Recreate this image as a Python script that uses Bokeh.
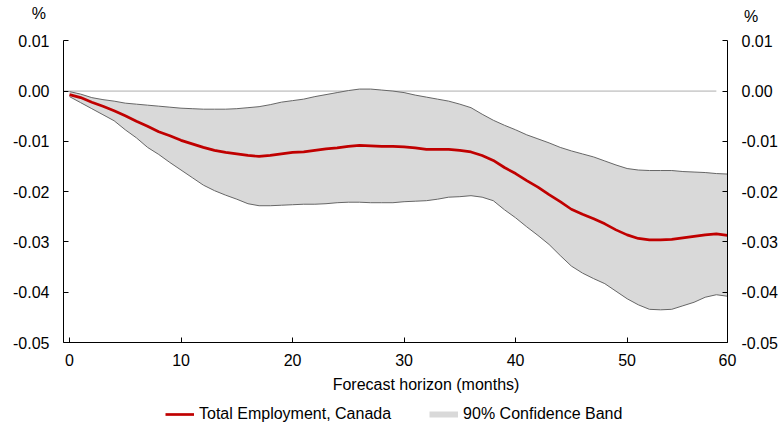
from bokeh.plotting import figure
from bokeh.models import (Range1d, LinearAxis, FixedTicker, PrintfTickFormatter,
                          Legend, LegendItem, Label, ColumnDataSource)
from bokeh.embed import file_html
from bokeh.resources import INLINE

# ---------------- data ----------------
months = list(range(60))
employment = [
    -0.0007, -0.0013, -0.0022, -0.0030, -0.0039, -0.0049, -0.0060, -0.0070, -0.0081, -0.0089,
    -0.0098, -0.0105, -0.0112, -0.0118, -0.0122, -0.0125, -0.0128, -0.0130, -0.0128, -0.0125,
    -0.0122, -0.0121, -0.0118, -0.0115, -0.0113, -0.0110, -0.0108, -0.0109, -0.0110, -0.0110,
    -0.0111, -0.0113, -0.0116, -0.0116, -0.0116, -0.0118, -0.0121, -0.0128, -0.0138, -0.0152,
    -0.0164, -0.0178, -0.0191, -0.0206, -0.0220, -0.0235, -0.0245, -0.0254, -0.0264, -0.0276,
    -0.0286, -0.0293, -0.0296, -0.0296, -0.0295, -0.0292, -0.0289, -0.0286, -0.0284, -0.0287]
upper = [
    -0.0001, -0.0006, -0.0013, -0.0017, -0.0020, -0.0024, -0.0026, -0.0028, -0.0030, -0.0032,
    -0.0034, -0.0035, -0.0036, -0.0036, -0.0036, -0.0035, -0.0033, -0.0031, -0.0027, -0.0022,
    -0.0019, -0.0016, -0.0011, -0.0007, -0.0003, 0.0001, 0.0004, 0.0004, 0.0002, 0.0000,
    -0.0003, -0.0008, -0.0012, -0.0016, -0.0020, -0.0026, -0.0033, -0.0046, -0.0058, -0.0068,
    -0.0077, -0.0087, -0.0095, -0.0103, -0.0112, -0.0119, -0.0125, -0.0131, -0.0139, -0.0147,
    -0.0154, -0.0157, -0.0158, -0.0158, -0.0158, -0.0160, -0.0161, -0.0162, -0.0164, -0.0165]
lower = [
    -0.0011, -0.0023, -0.0035, -0.0047, -0.0059, -0.0077, -0.0093, -0.0112, -0.0126, -0.0142,
    -0.0157, -0.0172, -0.0187, -0.0198, -0.0207, -0.0215, -0.0224, -0.0228, -0.0228, -0.0227,
    -0.0226, -0.0225, -0.0225, -0.0224, -0.0222, -0.0221, -0.0221, -0.0222, -0.0222, -0.0222,
    -0.0220, -0.0219, -0.0218, -0.0215, -0.0211, -0.0210, -0.0208, -0.0211, -0.0218, -0.0236,
    -0.0252, -0.0270, -0.0287, -0.0305, -0.0327, -0.0348, -0.0362, -0.0373, -0.0383, -0.0398,
    -0.0413, -0.0425, -0.0434, -0.0435, -0.0434, -0.0427, -0.0420, -0.0410, -0.0405, -0.0408]

x_ticks = [0, 10, 20, 30, 40, 50, 59]
x_tick_labels = ["0", "10", "20", "30", "40", "50", "60"]
y_ticks = [0.01, 0.0, -0.01, -0.02, -0.03, -0.04, -0.05]
Y_TOP, Y_BOTTOM = 0.01, -0.05

x_title = "Forecast horizon (months)"
unit_label = "%"
series_name = "Total Employment, Canada"
band_name = "90% Confidence Band"

# ---------------- layout (pixels) ----------------
W, H = 780, 425
PX_M0, PX_MLAST = 69.0, 727.0          # pixel x of first / last month
PX_YTOP, PX_YBOT = 40.3, 342.0         # pixel y of Y_TOP / Y_BOTTOM
PX_AXIS_LEFT = 63.0
ppx = (PX_MLAST - PX_M0) / (months[-1] - months[0])
ppy = (PX_YBOT - PX_YTOP) / (Y_TOP - Y_BOTTOM)


def dx(px):
    return months[0] + (px - PX_M0) / ppx


def dy(py):
    return Y_TOP - (py - PX_YTOP) / ppy


X_LEFT = dx(PX_AXIS_LEFT)
X_RIGHT = months[-1]

FONT = "Liberation Sans"
FS = "16px"

src = ColumnDataSource(dict(m=months, emp=employment, up=upper, lo=lower))

p = figure(width=W, height=H, output_backend="svg", toolbar_location=None,
           x_range=Range1d(dx(0), dx(W)), y_range=Range1d(dy(H), dy(0)),
           x_axis_location=None, y_axis_location=None,
           min_border=0, min_border_left=0, min_border_right=0,
           min_border_top=0, min_border_bottom=0,
           background_fill_color="white", border_fill_color="white")
p.outline_line_color = None
p.grid.visible = False

# zero reference line (under the band)
p.segment(x0=[X_LEFT], y0=[0.0], x1=[months[-2]], y1=[0.0],
          line_color="#d0d0d0", line_width=1.6)

band = p.varea(x="m", y1="lo", y2="up", source=src, fill_color="#d9d9d9")
p.line(x="m", y="up", source=src, line_color="#666666", line_width=1)
p.line(x="m", y="lo", source=src, line_color="#666666", line_width=1)
emp = p.line(x="m", y="emp", source=src, line_color="#c00000", line_width=2.7)
# legend key for the band (a thin grey bar); holds no visible data
band_key = p.line(x=[float("nan")], y=[float("nan")], line_color="#d9d9d9",
                  line_width=6, line_cap="butt")

# axes at fixed positions
xa = LinearAxis(fixed_location=Y_BOTTOM, bounds=(X_LEFT, X_RIGHT),
                ticker=FixedTicker(ticks=x_ticks))
xa.major_label_overrides = {t: l for t, l in zip(x_ticks, x_tick_labels)}
ya = LinearAxis(fixed_location=X_LEFT, bounds=(Y_BOTTOM, Y_TOP),
                ticker=FixedTicker(ticks=y_ticks), formatter=PrintfTickFormatter(format="%.2f"))
yr = LinearAxis(fixed_location=X_RIGHT, bounds=(Y_BOTTOM, Y_TOP),
                ticker=FixedTicker(ticks=y_ticks), formatter=PrintfTickFormatter(format="%.2f"))
p.add_layout(xa, "below")
p.add_layout(ya, "left")
p.add_layout(yr, "right")

for ax in [xa, ya, yr]:
    ax.axis_line_color = "#000000"
    ax.axis_line_width = 1
    ax.major_tick_line_color = "#000000"
    ax.major_tick_in = 5
    ax.major_tick_out = 0
    ax.minor_tick_line_color = None
    ax.major_label_text_font = FONT
    ax.major_label_text_font_size = FS
    ax.major_label_text_color = "#000000"
xa.major_label_standoff = 11
ya.major_label_standoff = 14
yr.major_label_standoff = 14

txt = dict(text_font=FONT, text_font_size=FS, text_color="#000000",
           text_align="center", text_baseline="middle")
p.add_layout(Label(x=dx(38.3), y=dy(13.0), text=unit_label, **txt))
p.add_layout(Label(x=dx(750.7), y=dy(16.0), text=unit_label, **txt))
p.add_layout(Label(x=dx(425.5), y=dy(384.0), text=x_title, **txt))

legend = Legend(items=[LegendItem(label=series_name, renderers=[emp]),
                       LegendItem(label=band_name, renderers=[band_key])],
                orientation="horizontal", location=(165, 2),
                glyph_width=29, glyph_height=18, label_height=18, label_standoff=5,
                spacing=38, padding=0, margin=0,
                label_text_font=FONT, label_text_font_size=FS, label_text_color="#000000",
                border_line_color=None, background_fill_alpha=0)
p.add_layout(legend, "center")

open("out.html", "w").write(file_html(p, INLINE))
